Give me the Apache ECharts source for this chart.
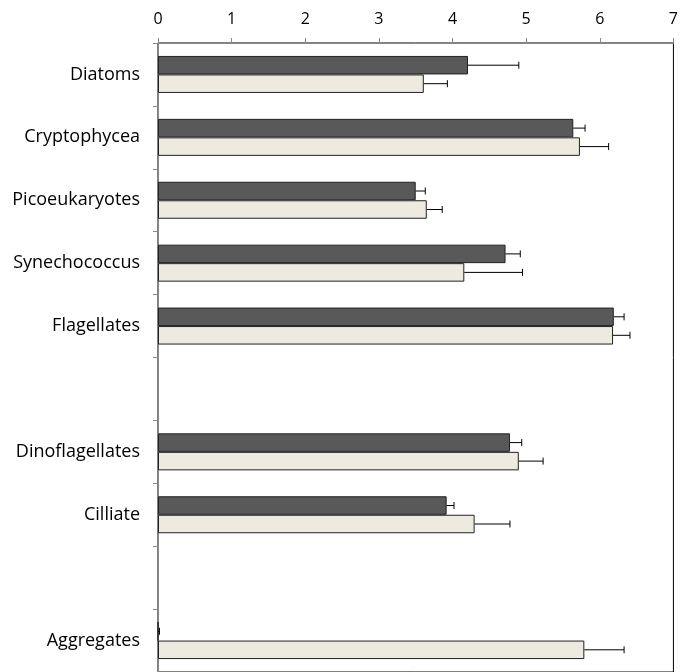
<!DOCTYPE html>
<html><head><meta charset="utf-8">
<script src="https://cdn.jsdelivr.net/npm/echarts@6/dist/echarts.min.js"></script>
<style>html,body{margin:0;padding:0;background:#fff}#c{width:681px;height:672px}</style>
</head><body><div id="c"></div>
<script>
const categories = ['Diatoms','Cryptophycea','Picoeukaryotes','Synechococcus','Flagellates','','Dinoflagellates','Cilliate','','Aggregates'];
const darkValues = [4.21, 5.64, 3.50, 4.72, 6.19, null, 4.78, 3.92, null, 0.0];
const darkErrors = [0.69, 0.16, 0.13, 0.20, 0.14, null, 0.16, 0.10, null, 0.02];
const lightValues = [3.61, 5.73, 3.65, 4.16, 6.18, null, 4.90, 4.30, null, 5.79];
const lightErrors = [0.32, 0.39, 0.21, 0.79, 0.23, null, 0.33, 0.48, null, 0.54];
const xTicks = [0,1,2,3,4,5,6,7];

const BW = 18.5;
function errSeries(vals, errs, offset){
  return {
    type:'custom', z:5, silent:true,
    data: vals.map((v,i)=> v==null ? [null,i,null] : [v,i,v+errs[i]]),
    renderItem(params, api){
      const v = api.value(0); if (v==null || isNaN(v)) return;
      const cat = api.value(1), e = api.value(2);
      const p0 = api.coord([v,cat]), p1 = api.coord([e,cat]);
      const y = p0[1] + offset;
      const st = {stroke:'#000', lineWidth:1};
      return {type:'group', children:[
        {type:'line', shape:{x1:p0[0], y1:y, x2:p1[0], y2:y}, style:st},
        {type:'line', shape:{x1:p1[0], y1:y-3.5, x2:p1[0], y2:y+3.5}, style:st}
      ]};
    }
  };
}

const chart = echarts.init(document.getElementById('c'));
chart.setOption({
  animation:false,
  grid:{left:158, right:1, top:43, height:632, show:true, borderColor:'#000', borderWidth:1, backgroundColor:'transparent'},
  xAxis:{type:'value', position:'top', min:0, max:7, interval:1,
    axisLine:{show:true, lineStyle:{color:'#888', width:1}},
    axisTick:{show:true, length:5, lineStyle:{color:'#888'}},
    splitLine:{show:false},
    axisLabel:{margin:16, color:'#000', fontSize:16, fontFamily:'Open Sans', formatter:v=>String(xTicks[v] ?? v)}
  },
  yAxis:{type:'category', inverse:true, data:categories,
    axisLine:{show:true, lineStyle:{color:'#888', width:1}},
    axisTick:{show:true, length:5, lineStyle:{color:'#888'}},
    axisLabel:{margin:18, color:'#000', fontSize:18, fontFamily:'Open Sans', padding:[5,0,0,0]}
  },
  series:[
    {type:'bar', data:darkValues, barWidth:BW, barGap:'0%',
      itemStyle:{color:'#595959', borderColor:'#222', borderWidth:1}},
    {type:'bar', data:lightValues, barWidth:BW, barGap:'0%',
      itemStyle:{color:'#EDEBE0', borderColor:'#222', borderWidth:1}},
    errSeries(darkValues, darkErrors, -BW/2),
    errSeries(lightValues, lightErrors, BW/2)
  ]
});
</script></body></html>
